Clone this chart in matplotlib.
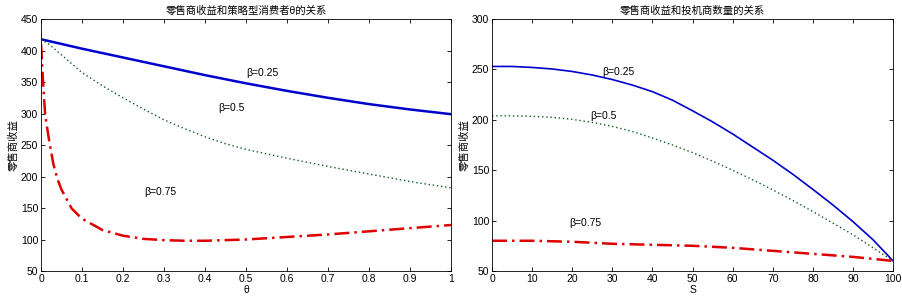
import numpy as np
import matplotlib.pyplot as plt

plt.rcParams['font.family'] = ['Liberation Sans', 'Noto Sans CJK SC', 'DejaVu Sans']
plt.rcParams['font.size'] = 7.5

# left panel: retailer revenue vs theta
theta_a = [0, 0.1, 0.2, 0.3, 0.4, 0.5, 0.6, 0.7, 0.8, 0.9, 1.0]
rev_a_025 = [418, 403, 389, 375, 361, 348, 336, 325, 315, 306.5, 299]
theta_b = [0, 0.02, 0.05, 0.1, 0.15, 0.2, 0.25, 0.3, 0.35, 0.4, 0.45, 0.5,
           0.6, 0.7, 0.8, 0.9, 1.0]
rev_a_05 = [418, 410, 393, 365, 344, 325, 307, 290, 276, 263, 252, 243,
            229, 216, 204, 192, 182]
theta_c = [0, 0.004, 0.01, 0.02, 0.03, 0.04, 0.05, 0.075, 0.1, 0.15, 0.2, 0.25,
           0.3, 0.35, 0.4, 0.5, 0.6, 0.7, 0.8, 0.9, 1.0]
rev_a_075 = [410, 360, 298, 256, 220, 196, 179, 149, 133, 115, 106, 101,
             99, 98, 98, 100, 104, 108, 113, 118, 123]

# right panel: retailer revenue vs number of speculators S
s_vals = [0, 5, 10, 15, 20, 25, 30, 35, 40, 45, 50, 55, 60, 65, 70, 75, 80, 85, 90, 95, 100]
rev_b_025 = [253, 253, 252, 250.5, 248, 244.5, 240, 234.5, 228, 219.5, 209, 198, 186,
             173, 160, 146, 131, 115.5, 99, 81, 60]
rev_b_05 = [204, 204, 203.5, 202.5, 200.5, 197.5, 193.5, 188.5, 182, 175, 167.5, 159,
            150, 140.5, 130.5, 120, 109, 97.5, 86, 73, 60]
rev_b_075 = [80, 80, 80, 79.5, 79, 78, 77, 76.5, 76, 75.5, 75, 74, 73, 71.5,
             70, 68.5, 67, 65.5, 64, 62, 60]

blue = '#0000cc'
green = '#0b5d1e'
red = '#e00000'

fig = plt.figure(figsize=(9.02, 2.96), dpi=100)
ax1 = fig.add_axes([0.0455, 0.0845, 0.4545, 0.851])
ax2 = fig.add_axes([0.5455, 0.0845, 0.4446, 0.851])

ax1.plot(theta_a, rev_a_025, color=blue, lw=1.8)
ax1.plot(theta_b, rev_a_05, color=green, lw=1.0, ls=(0, (1, 2)))
ax1.plot(theta_c, rev_a_075, color=red, lw=1.8, ls=(0, (6, 2, 1, 2)))
ax1.text(0.54, 364, 'β=0.25', ha='center', va='center')
ax1.text(0.465, 309, 'β=0.5', ha='center', va='center')
ax1.text(0.29, 175, 'β=0.75', ha='center', va='center')
ax1.set_xlim(0, 1)
ax1.set_ylim(50, 450)
ax1.set_xticks(np.arange(0, 1.01, 0.1))
ax1.set_xticklabels(['0', '0.1', '0.2', '0.3', '0.4', '0.5', '0.6', '0.7', '0.8', '0.9', '1'])
ax1.set_yticks(np.arange(50, 451, 50))
ax1.set_title('零售商收益和策略型消费者θ的关系', fontsize=7.5, pad=4)
ax1.set_xlabel('θ', labelpad=1)
ax1.set_ylabel('零售商收益', labelpad=2)

ax2.plot(s_vals, rev_b_025, color=blue, lw=1.2)
ax2.plot(s_vals, rev_b_05, color=green, lw=1.0, ls=(0, (1, 2)))
ax2.plot(s_vals, rev_b_075, color=red, lw=1.8, ls=(0, (6, 2, 1, 2)))
ax2.text(31.4, 247, 'β=0.25', ha='center', va='center')
ax2.text(27.7, 204, 'β=0.5', ha='center', va='center')
ax2.text(23.2, 98, 'β=0.75', ha='center', va='center')
ax2.set_xlim(0, 100)
ax2.set_ylim(50, 300)
ax2.set_xticks(np.arange(0, 101, 10))
ax2.set_yticks(np.arange(50, 301, 50))
ax2.set_title('零售商收益和投机商数量的关系', fontsize=7.5, pad=4)
ax2.set_xlabel('S', labelpad=1)
ax2.set_ylabel('零售商收益', labelpad=2)

for ax in (ax1, ax2):
    ax.tick_params(direction='in', top=True, right=True, length=3, width=0.6, pad=2)
    for sp in ax.spines.values():
        sp.set_linewidth(0.6)

fig.savefig('out.png', dpi=100)
